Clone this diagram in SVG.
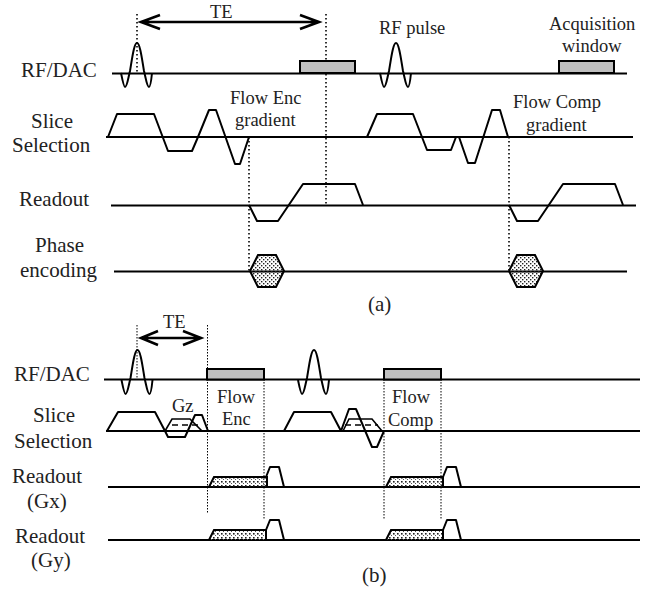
<svg xmlns="http://www.w3.org/2000/svg" width="660" height="591" viewBox="0 0 660 591">
<style>
text{font-family:"Liberation Serif","Times New Roman",serif;font-size:18.5px;fill:#222}
.l{font-size:21px}
.w{fill:none;stroke:#000;stroke-width:2;stroke-linejoin:round}
.b{fill:none;stroke:#000;stroke-width:2}
.d{fill:none;stroke:#000;stroke-width:1.6;stroke-dasharray:1.6 2.4}
.t{fill:none;stroke:#000;stroke-width:1;stroke-dasharray:1.5 1.5}
.r{fill:#bfbfbf;stroke:#000;stroke-width:2}
.a{fill:none;stroke:#000;stroke-width:2.6}
.dash{fill:none;stroke:#000;stroke-width:1.4;stroke-dasharray:6 4}
.thin{fill:none;stroke:#000;stroke-width:1.6}
.h{fill:url(#dots);stroke:#000;stroke-width:2}
.g{fill:url(#fine);stroke:#000;stroke-width:2}
</style>
<defs>
<pattern id="dots" width="4" height="4" patternUnits="userSpaceOnUse"><rect x="0" y="0" width="1.4" height="1.4" fill="#222"/><rect x="2" y="2" width="1.4" height="1.4" fill="#222"/></pattern>
<pattern id="fine" width="4" height="4" patternUnits="userSpaceOnUse"><rect x="1" y="1" width="1.6" height="1.6" fill="#222"/><rect x="3" y="3" width="1" height="1" fill="#555"/></pattern>
<path id="sinc" d="M-16 0C-14 10-13 14-12 14C-10 14-9 6-7 -2C-5 -14-3 -30 0 -30C3 -30 5 -14 7 -2C9 6 10 14 12 14C13 14 14 10 15 0"/>
<polyline id="hex" points="-17,0 -9,-16 9,-16 17,0 9,16 -9,16 -17,0"/>
</defs>
<g id="connectors">
<path class="d" d="M137 14V73M326 14V205M249 137V271M509 137V271"/>
<path class="t" d="M137 325V379M207.500 325V513M264 379V520M384 379V520M441 379V520"/>
<path class="b" d="M112 73.500H627M106 137H633M111 205.500H636M114 271.500H627"/>
<path class="b" d="M104 379.500H640M106 431H640M108 487H640M108 540H640"/>
</g>
<g id="te-a"><path class="a" d="M141 22H319M160 15L141 22L160 29M300 15L319 22L300 29"/><text x="210" y="18">TE</text></g>
<g id="te-b"><path class="a" d="M141 338H201M158 331L141 338L158 345M183 331L201 338L183 345"/><text x="163" y="328">TE</text></g>
<g id="a-rf"><use href="#sinc" class="w" x="137" y="73"/><use href="#sinc" class="w" x="396" y="73"/>
<rect class="r" x="300" y="61" width="55" height="12"/><rect class="r" x="559" y="61" width="55" height="12"/></g>
<g id="a-slice"><polyline class="w" points="108,137 117,114 154,114 168,151 192,151 198,137 209,110 216,110 235,164 240,164 249,137"/>
<polyline class="w" points="367,137 377,114 413,114 427,150 451,150 456,137 459,137 468,163 475,163 492,110 500,110 508,137"/></g>
<g id="a-read"><polyline class="w" points="249,205 257,221 278,221 303,184 355,184 363,205"/>
<polyline class="w" points="509,205 517,221 538,221 563,184 615,184 623,205"/></g>
<g id="a-phase"><use href="#hex" class="h" x="267" y="271"/><use href="#hex" class="h" x="526" y="271"/></g>
<g id="b-rf"><use href="#sinc" class="w" x="137.500" y="380"/><use href="#sinc" class="w" x="314" y="380"/>
<rect class="r" x="207" y="369" width="57" height="10.500"/><rect class="r" x="384" y="369" width="57" height="10.500"/></g>
<g id="b-slice"><polyline class="w" points="107,431 118,412 155,412 165,431 168,437 185,437 195,415 202,415 208,431"/>
<polyline class="thin" points="165,431 172,419 190,419 202,431"/><path class="dash" d="M172 425H200"/>
<polyline class="w" points="284,431 294,412 331,412 341,431 349,409 356,409 372,447 377,447 384,431"/>
<polyline class="thin" points="343,431 349,419 372,419 382,431"/><path class="dash" d="M345 425H378"/></g>
<g id="b-gx"><polyline class="g" points="209,487 214,477 267,477 267,487"/><polyline class="g" points="386,487 391,477 443,477 443,487"/>
<polyline class="w" points="266,477 270,467 279,467 284,487"/><polyline class="w" points="443,477 447,467 456,467 461,487"/></g>
<g id="b-gy"><polyline class="g" points="209,540 214,530 266,530 266,540"/><polyline class="g" points="386,540 391,530 443,530 443,540"/>
<polyline class="w" points="266,530 270,520 279,520 284,540"/><polyline class="w" points="443,530 447,520 456,520 461,540"/></g>
<g id="labels">
<text class="l" x="21" y="77">RF/DAC</text><text class="l" x="31" y="128">Slice</text><text class="l" x="12" y="152">Selection</text><text class="l" x="19" y="206">Readout</text><text class="l" x="35" y="252">Phase</text><text class="l" x="20" y="277">encoding</text>
<text class="l" x="368" y="311">(a)</text>
<text x="230" y="104">Flow Enc</text><text x="235" y="126">gradient</text><text x="379" y="34">RF pulse</text><text x="549" y="30">Acquisition</text><text x="562" y="52">window</text><text x="513" y="108">Flow Comp</text><text x="526" y="131">gradient</text>
<text class="l" x="14" y="381">RF/DAC</text><text class="l" x="33" y="422">Slice</text><text class="l" x="14" y="448">Selection</text><text class="l" x="12" y="483">Readout</text><text class="l" x="27" y="508">(Gx)</text><text class="l" x="15" y="543">Readout</text><text class="l" x="31" y="567">(Gy)</text><text x="172" y="412">Gz</text>
<text x="217" y="403">Flow</text><text x="222" y="425">Enc</text><text x="392" y="403">Flow</text><text x="388" y="426">Comp</text><text class="l" x="362" y="582">(b)</text>
</g>
</svg>
